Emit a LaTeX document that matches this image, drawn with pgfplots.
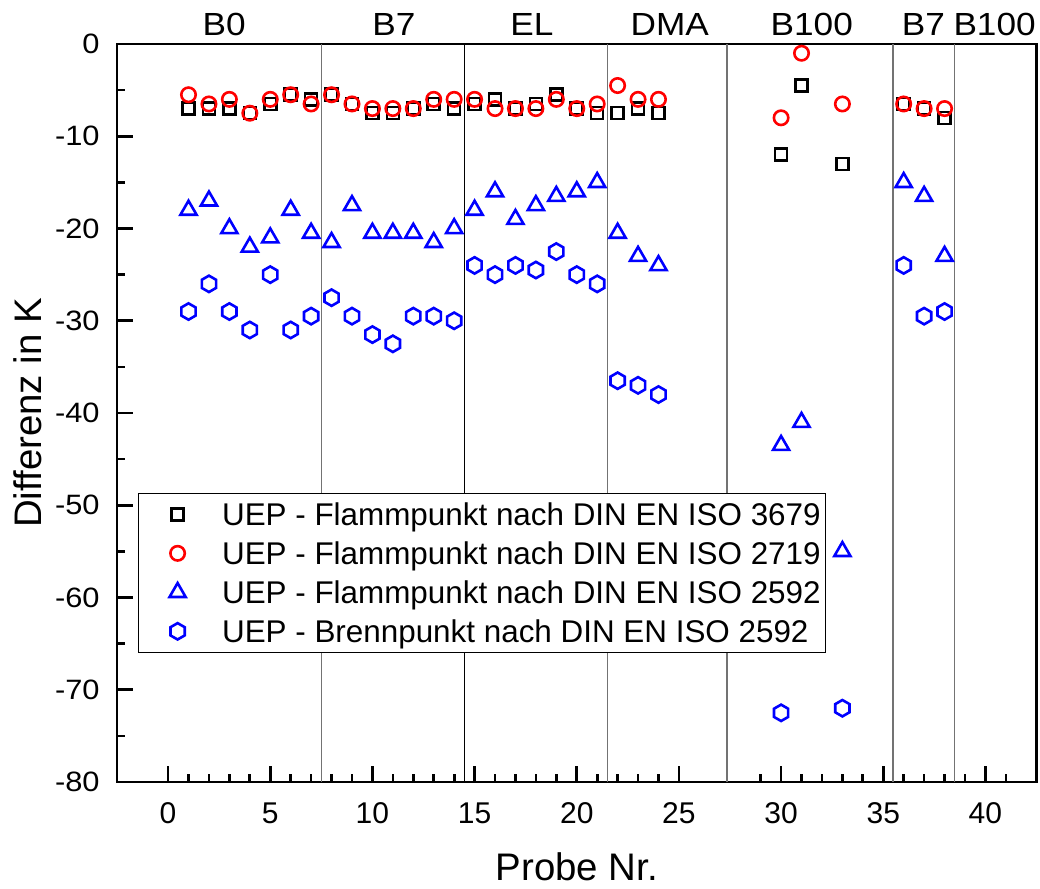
\documentclass[border=0pt]{standalone}
\usepackage{fontspec}
\setmainfont{Liberation Sans}
\newfontfamily\ytfont{Liberation Sans}[FakeStretch=1.1]
\newfontfamily\grpfont{Liberation Sans}[FakeStretch=1.1]
\usepackage{pgfplots}
\pgfplotsset{compat=1.18}

\pgfdeclareplotmark{hexagon}{%
  \pgfpathmoveto{\pgfpointpolar{90}{\pgfplotmarksize}}%
  \pgfpathlineto{\pgfpointpolar{150}{\pgfplotmarksize}}%
  \pgfpathlineto{\pgfpointpolar{210}{\pgfplotmarksize}}%
  \pgfpathlineto{\pgfpointpolar{270}{\pgfplotmarksize}}%
  \pgfpathlineto{\pgfpointpolar{330}{\pgfplotmarksize}}%
  \pgfpathlineto{\pgfpointpolar{30}{\pgfplotmarksize}}%
  \pgfpathclose
  \pgfusepathqstroke
}

\begin{document}
\begin{tikzpicture}
\begin{axis}[
  scale only axis, width=459.75pt, height=369pt,
  xmin=-2.5, xmax=42.5, ymin=-80, ymax=0,
  axis line style={line width=1.35pt},
  every tick/.style={black, line width=1.35pt},
  tick align=inside,
  xtick pos=left, ytick pos=left,
  major tick length=7.8pt, minor tick length=4.2pt,
  xtick={0,5,10,15,20,25,30,35,40},
  xticklabels={0,5,10,15,20,25,30,35,40},
  minor xtick={1,2,3,4,6,7,8,9,11,12,13,14,16,17,18,19,21,22,23,24,29,31,32,33,34,36,37,38,39,41},
  ytick={-80,-70,-60,-50,-40,-30,-20,-10,0},
  yticklabels={-80,-70,-60,-50,-40,-30,-20,-10,0},
  minor ytick={-75,-65,-55,-45,-35,-25,-15,-5},
  xticklabel style={font=\fontsize{15}{18}\selectfont, anchor=base, inner sep=0pt, yshift=-20.65pt},
  yticklabel style={font=\ytfont\fontsize{14}{16}\selectfont, anchor=east, inner sep=0pt, xshift=-8.5pt},
  xlabel={Probe Nr.}, ylabel={Differenz in K},
  label style={font=\fontsize{19.2}{23}\selectfont},
  xlabel style={at={(axis description cs:0.5,-0.1341)}, anchor=base},
  ylabel style={at={(axis description cs:-0.0973,0.5)}, anchor=center},
  clip=false,
  legend cell align=left,
  legend image code/.code={\path[draw=none,fill=none] (-17pt,0pt) -- (22.25pt,0pt); \draw[#1] plot coordinates {(0pt,0pt)};},
  legend style={at={(0.02284,0.392)}, anchor=north west, draw=black, line width=0.6pt, fill=white,
    inner xsep=2.5pt, inner ysep=0.75pt, row sep=0pt, column sep=0pt,
    font=\fontsize{15.7}{18}\selectfont,
    nodes={inner sep=0pt, text height=15.25pt, text depth=4.25pt}},
]
% separator lines
\addplot[forget plot, black!55, line width=0.65pt, no marks] coordinates {(7.5,-80) (7.5,0)};
\addplot[forget plot, black, line width=0.65pt, no marks] coordinates {(14.5,-80) (14.5,0)};
\addplot[forget plot, black!55, line width=0.65pt, no marks] coordinates {(21.5,-80) (21.5,0)};
\addplot[forget plot, black!55, line width=0.65pt, no marks] coordinates {(27.36,-80) (27.36,0)};
\addplot[forget plot, black!55, line width=0.65pt, no marks] coordinates {(35.47,-80) (35.47,0)};
\addplot[forget plot, black!55, line width=0.65pt, no marks] coordinates {(38.5,-80) (38.5,0)};

\addplot[only marks, mark=square, mark size=3pt, black, line width=1.3pt] coordinates {
(1,-7)(2,-7)(3,-7)(4,-7.5)(5,-6.5)(6,-5.5)(7,-6)(8,-5.5)(9,-6.5)(10,-7.5)(11,-7.5)(12,-7)(13,-6.5)(14,-7)(15,-6.5)(16,-6)(17,-7)(18,-6.5)(19,-5.5)(20,-7)(21,-7.5)(22,-7.5)(23,-7)(24,-7.5)(30,-12)(31,-4.5)(33,-13)(36,-6.5)(37,-7)(38,-8)};
\addlegendentry{UEP - Flammpunkt nach DIN EN ISO 3679}
\addplot[only marks, mark=o, mark size=3.6pt, red, line width=1.3pt] coordinates {
(1,-5.5)(2,-6.5)(3,-6)(4,-7.5)(5,-6)(6,-5.5)(7,-6.5)(8,-5.5)(9,-6.5)(10,-7)(11,-7)(12,-7)(13,-6)(14,-6)(15,-6)(16,-7)(17,-7)(18,-7)(19,-6)(20,-7)(21,-6.5)(22,-4.5)(23,-6)(24,-6)(30,-8)(31,-1)(33,-6.5)(36,-6.5)(37,-7)(38,-7)};
\addlegendentry{UEP - Flammpunkt nach DIN EN ISO 2719}
\addplot[only marks, mark=triangle, mark size=4.65pt, blue, line width=1.3pt] coordinates {
(1,-18)(2,-17)(3,-20)(4,-22)(5,-21)(6,-18)(7,-20.5)(8,-21.5)(9,-17.5)(10,-20.5)(11,-20.5)(12,-20.5)(13,-21.5)(14,-20)(15,-18)(16,-16)(17,-19)(18,-17.5)(19,-16.5)(20,-16)(21,-15)(22,-20.5)(23,-23)(24,-24)(30,-43.5)(31,-41)(33,-55)(36,-15)(37,-16.5)(38,-23)};
\addlegendentry{UEP - Flammpunkt nach DIN EN ISO 2592}
\addplot[only marks, mark=hexagon, mark size=4.1pt, blue, line width=1.3pt] coordinates {
(1,-29)(2,-26)(3,-29)(4,-31)(5,-25)(6,-31)(7,-29.5)(8,-27.5)(9,-29.5)(10,-31.5)(11,-32.5)(12,-29.5)(13,-29.5)(14,-30)(15,-24)(16,-25)(17,-24)(18,-24.5)(19,-22.5)(20,-25)(21,-26)(22,-36.5)(23,-37)(24,-38)(30,-72.5)(33,-72)(36,-24)(37,-29.5)(38,-29)};
\addlegendentry{UEP - Brennpunkt nach DIN EN ISO 2592}

\node[anchor=base, yshift=4.5pt, font=\grpfont\fontsize{16}{19}\selectfont] at (axis cs:2.74,0) {B0};
\node[anchor=base, yshift=4.5pt, font=\grpfont\fontsize{16}{19}\selectfont] at (axis cs:11.05,0) {B7};
\node[anchor=base, yshift=4.5pt, font=\grpfont\fontsize{16}{19}\selectfont] at (axis cs:17.8,0) {EL};
\node[anchor=base, yshift=4.5pt, font=\grpfont\fontsize{16}{19}\selectfont] at (axis cs:24.55,0) {DMA};
\node[anchor=base, yshift=4.5pt, font=\grpfont\fontsize{16}{19}\selectfont] at (axis cs:31.5,0) {B100};
\node[anchor=base, yshift=4.5pt, font=\grpfont\fontsize{16}{19}\selectfont] at (axis cs:36.97,0) {B7};
\node[anchor=base, yshift=4.5pt, font=\grpfont\fontsize{16}{19}\selectfont] at (axis cs:40.45,0) {B100};
\end{axis}
\pgfresetboundingbox
\path[use as bounding box] ([xshift=-58.5pt,yshift=-53pt]current axis.south west) rectangle ([xshift=1.75pt,yshift=22pt]current axis.north east);
\end{tikzpicture}
\end{document}
